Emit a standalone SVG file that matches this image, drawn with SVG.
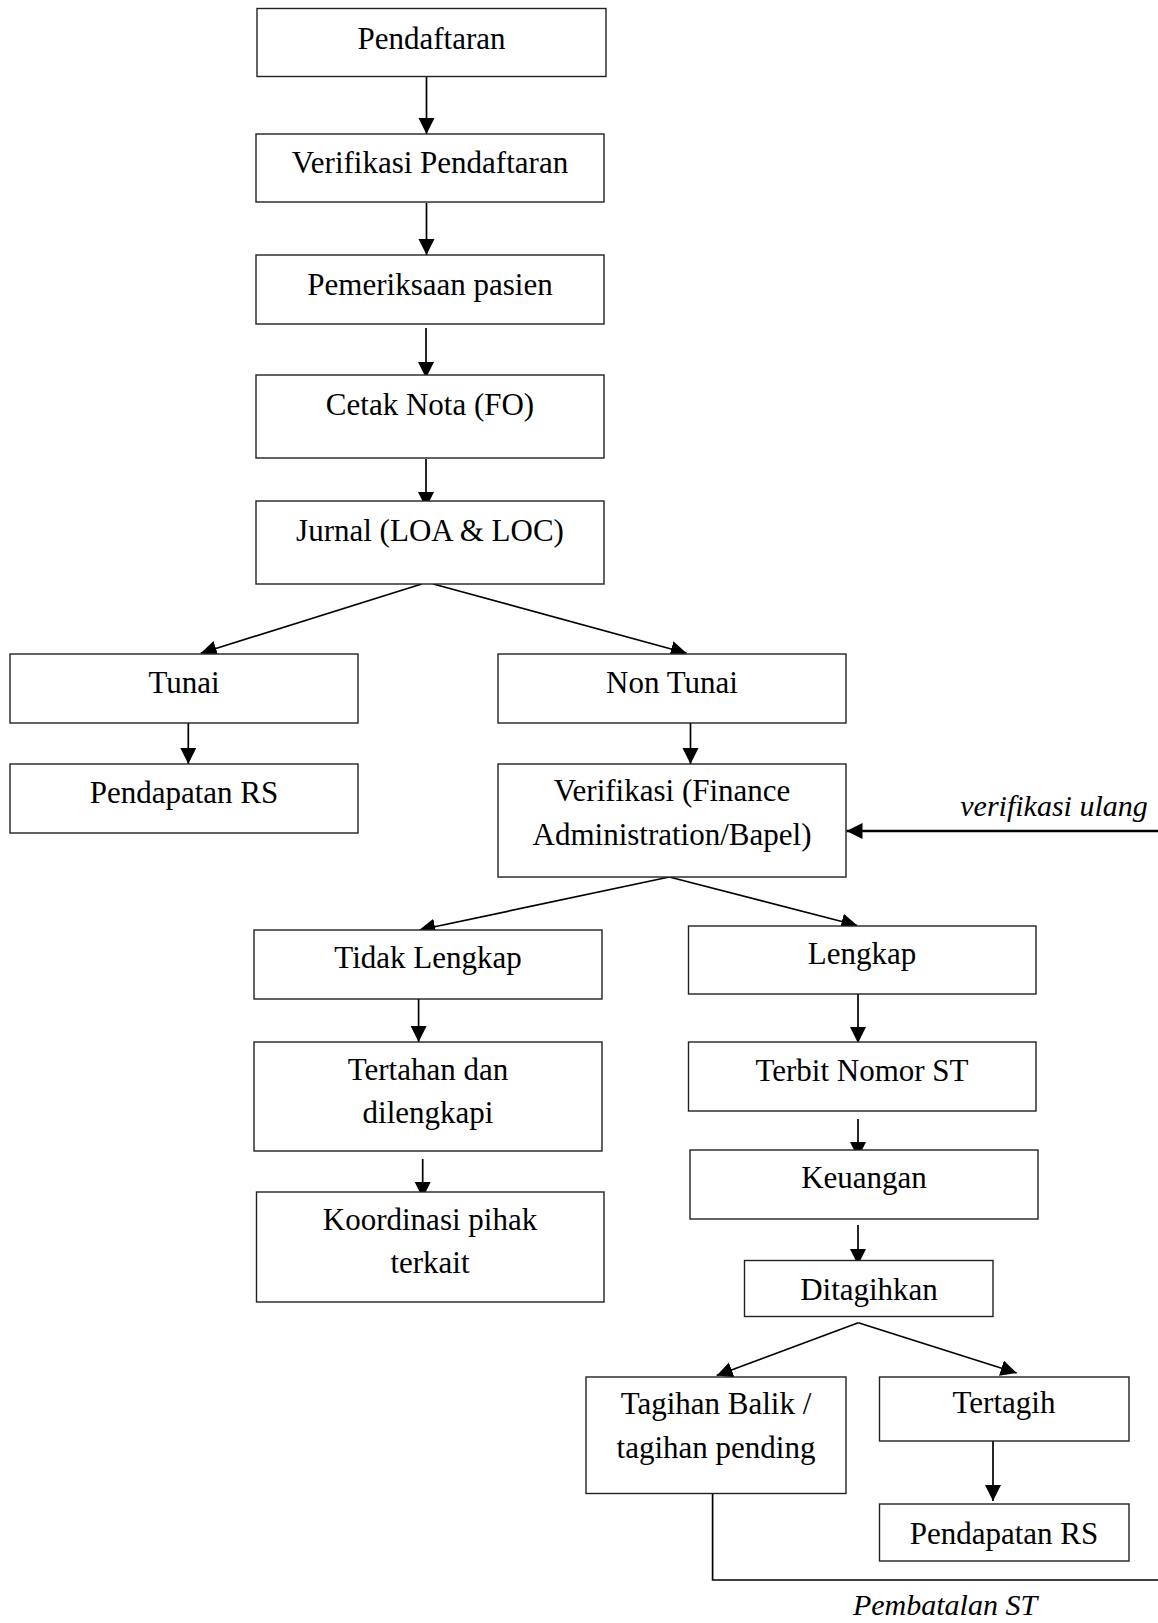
<svg xmlns="http://www.w3.org/2000/svg" width="1158" height="1623" viewBox="0 0 1158 1623">
<defs>
<marker id="ah" markerUnits="userSpaceOnUse" markerWidth="18" markerHeight="18" refX="16" refY="8" orient="auto">
<path d="M0,0 L16,8 L0,16 z" fill="#000"/>
</marker>
</defs>
<style>
.box{fill:#fff;stroke:#222;stroke-width:1.4}
.t{font-family:"Liberation Serif","Times New Roman",serif;font-size:31px;fill:#000;text-anchor:middle}
.it{font-family:"Liberation Serif","Times New Roman",serif;font-size:30px;font-style:italic;fill:#000;text-anchor:middle}
.c{stroke:#000;stroke-width:1.7;fill:none}
.ca{stroke:#000;stroke-width:1.7;fill:none;marker-end:url(#ah)}
</style>
<rect width="1158" height="1623" fill="#fff"/>
<g id="connectors">
<line class="ca" x1="426.5" y1="75" x2="426.5" y2="134"/>
<line class="ca" x1="426.5" y1="203" x2="426.5" y2="255"/>
<line class="ca" x1="426" y1="328" x2="426" y2="378"/>
<line class="ca" x1="426" y1="459" x2="426" y2="508"/>
<line class="ca" x1="421.7" y1="584" x2="200.7" y2="653.3"/>
<line class="ca" x1="433.3" y1="584" x2="686.7" y2="653.3"/>
<line class="ca" x1="188.3" y1="716" x2="188.3" y2="764"/>
<line class="ca" x1="690.5" y1="716" x2="690.5" y2="764"/>
<line class="ca" style="stroke-width:2.3" x1="1158" y1="831" x2="846.5" y2="831"/>
<line class="ca" x1="669.3" y1="877" x2="419.3" y2="930"/>
<line class="ca" x1="669.3" y1="877" x2="857.3" y2="925.5"/>
<line class="ca" x1="418.6" y1="999" x2="418.6" y2="1042"/>
<line class="ca" x1="422.7" y1="1159" x2="422.7" y2="1198"/>
<line class="ca" x1="858" y1="994" x2="858" y2="1043"/>
<line class="ca" x1="858" y1="1119" x2="858" y2="1158"/>
<line class="ca" x1="858" y1="1225" x2="858" y2="1265"/>
<line class="ca" x1="858.3" y1="1322.7" x2="716.7" y2="1375.5"/>
<line class="ca" x1="858.3" y1="1322.7" x2="1016.7" y2="1373"/>
<line class="ca" x1="993" y1="1437" x2="993" y2="1501"/>
<polyline class="c" points="712.6,1493 712.6,1580 1158,1580"/>
</g>
<g id="n-pendaftaran"><rect class="box" x="257" y="8.5" width="349" height="68"/><text class="t" x="431.5" y="49">Pendaftaran</text></g>
<g id="n-verifikasi-pendaftaran"><rect class="box" x="256" y="134" width="348" height="68"/><text class="t" x="430" y="173">Verifikasi Pendaftaran</text></g>
<g id="n-pemeriksaan"><rect class="box" x="256" y="255" width="348" height="69"/><text class="t" x="430" y="295">Pemeriksaan pasien</text></g>
<g id="n-cetak-nota"><rect class="box" x="256" y="375" width="348" height="83"/><text class="t" x="430" y="415">Cetak Nota (FO)</text></g>
<g id="n-jurnal"><rect class="box" x="256" y="501" width="348" height="83"/><text class="t" x="430" y="541">Jurnal (LOA &amp; LOC)</text></g>
<g id="n-tunai"><rect class="box" x="10" y="654" width="348" height="69"/><text class="t" x="184" y="693">Tunai</text></g>
<g id="n-pendapatan-rs-1"><rect class="box" x="10" y="764" width="348" height="69"/><text class="t" x="184" y="803">Pendapatan RS</text></g>
<g id="n-non-tunai"><rect class="box" x="498" y="654" width="348" height="69"/><text class="t" x="672" y="693">Non Tunai</text></g>
<g id="n-verifikasi-finance"><rect class="box" x="498" y="764" width="348" height="113"/><text class="t" x="672" y="801">Verifikasi (Finance</text><text class="t" x="672" y="845">Administration/Bapel)</text></g>
<g id="l-verifikasi-ulang"><text class="it" x="1054" y="816">verifikasi ulang</text></g>
<g id="n-tidak-lengkap"><rect class="box" x="254" y="930" width="348" height="69"/><text class="t" x="428" y="968">Tidak Lengkap</text></g>
<g id="n-lengkap"><rect class="box" x="688.5" y="926" width="347.5" height="68"/><text class="t" x="862" y="964">Lengkap</text></g>
<g id="n-tertahan"><rect class="box" x="254" y="1042" width="348" height="109"/><text class="t" x="428" y="1080">Tertahan dan</text><text class="t" x="428" y="1123">dilengkapi</text></g>
<g id="n-terbit"><rect class="box" x="688.5" y="1042" width="347.5" height="69"/><text class="t" x="862" y="1081">Terbit Nomor ST</text></g>
<g id="n-koordinasi"><rect class="box" x="256.5" y="1192" width="347.5" height="110"/><text class="t" x="430" y="1230">Koordinasi pihak</text><text class="t" x="430" y="1273">terkait</text></g>
<g id="n-keuangan"><rect class="box" x="690" y="1150" width="348" height="69"/><text class="t" x="864" y="1188">Keuangan</text></g>
<g id="n-ditagihkan"><rect class="box" x="744.5" y="1260.5" width="248.5" height="56"/><text class="t" x="869" y="1300">Ditagihkan</text></g>
<g id="n-tagihan-balik"><rect class="box" x="586" y="1377" width="260" height="116.5"/><text class="t" x="716" y="1414">Tagihan Balik /</text><text class="t" x="716" y="1458">tagihan pending</text></g>
<g id="n-tertagih"><rect class="box" x="879.5" y="1377" width="249.5" height="64"/><text class="t" x="1004" y="1413">Tertagih</text></g>
<g id="n-pendapatan-rs-2"><rect class="box" x="879.5" y="1504" width="249.5" height="57"/><text class="t" x="1004" y="1544">Pendapatan RS</text></g>
<g id="l-pembatalan"><text class="it" x="945" y="1615">Pembatalan ST</text></g>
</svg>
